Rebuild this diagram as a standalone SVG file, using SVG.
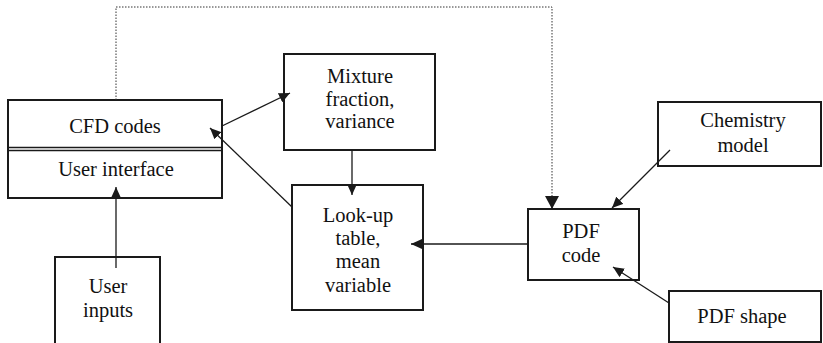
<svg xmlns="http://www.w3.org/2000/svg" width="823" height="343" viewBox="0 0 823 343">
<style>
.box{fill:#fff;stroke:#1a1a1a;stroke-width:2}
.t{font-family:'Liberation Serif','Times New Roman',Tinos,'Nimbus Roman','DejaVu Serif',serif;font-size:20.5px;fill:#111;text-anchor:middle}
.c{fill:none;stroke:#1a1a1a;stroke-width:1.3}
.d{fill:none;stroke:#333;stroke-width:1;stroke-dasharray:1.5 1.5}
</style>
<defs>
<marker id="a" markerUnits="userSpaceOnUse" markerWidth="12" markerHeight="10" refX="11" refY="5" orient="auto"><path d="M0,0 L11,5 L0,10 Z" fill="#1a1a1a"/></marker>
<marker id="b" markerUnits="userSpaceOnUse" markerWidth="14" markerHeight="14" refX="13" refY="7" orient="auto"><path d="M0,0 L13,7 L0,14 Z" fill="#1a1a1a"/></marker>
</defs>
<g id="cfd">
<rect class="box" x="8" y="100" width="214" height="98"/>
<line stroke="#1a1a1a" stroke-width="1.5" x1="8" y1="147.5" x2="222" y2="147.5"/>
<line stroke="#1a1a1a" stroke-width="1.5" x1="8" y1="150.5" x2="222" y2="150.5"/>
<text class="t" x="115" y="133">CFD codes</text>
<text class="t" x="116" y="176">User interface</text>
</g>
<g id="mixture">
<rect class="box" x="284" y="54" width="151" height="96"/>
<text class="t" x="360" y="83">Mixture</text>
<text class="t" x="360" y="106">fraction,</text>
<text class="t" x="360" y="128">variance</text>
</g>
<g id="lookup">
<rect class="box" x="292" y="185" width="131" height="125"/>
<text class="t" x="358" y="222">Look-up</text>
<text class="t" x="358" y="245">table,</text>
<text class="t" x="358" y="268">mean</text>
<text class="t" x="358" y="292">variable</text>
</g>
<g id="userinputs">
<rect class="box" x="55" y="257" width="105" height="90"/>
<text class="t" x="108" y="293">User</text>
<text class="t" x="108" y="317">inputs</text>
</g>
<g id="pdfcode">
<rect class="box" x="528" y="209" width="111" height="71"/>
<text class="t" x="581" y="238">PDF</text>
<text class="t" x="581" y="262">code</text>
</g>
<g id="chemistry">
<rect class="box" x="658" y="102" width="163" height="64"/>
<text class="t" x="743" y="127">Chemistry</text>
<text class="t" x="743" y="152">model</text>
</g>
<g id="pdfshape">
<rect class="box" x="669" y="291" width="152" height="51"/>
<text class="t" x="742" y="323">PDF shape</text>
</g>
<g id="connectors">
<path class="d" d="M116,100 V7 H552 V200"/>
<path class="c" d="M552,200 V209" marker-end="url(#b)"/>
<line class="c" x1="116" y1="268" x2="116" y2="187" marker-end="url(#a)"/>
<line class="c" x1="222" y1="126" x2="290" y2="93" marker-end="url(#a)"/>
<line class="c" x1="292" y1="207" x2="210" y2="128" marker-end="url(#a)"/>
<line class="c" x1="352" y1="150" x2="352" y2="195" marker-end="url(#a)"/>
<line class="c" x1="528" y1="244" x2="411" y2="244" marker-end="url(#a)"/>
<line class="c" x1="670" y1="150" x2="612" y2="208" marker-end="url(#a)"/>
<line class="c" x1="669" y1="303" x2="613" y2="267" marker-end="url(#a)"/>
</g>
</svg>
